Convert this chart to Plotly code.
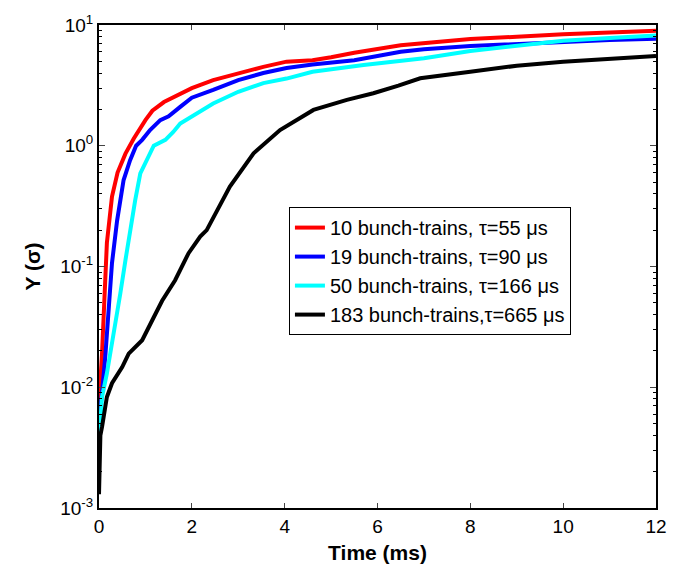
import plotly.graph_objects as go

# ---- data ----
t_red = [0.0, 0.01, 0.065, 0.12, 0.17, 0.28, 0.4, 0.57, 0.75, 1.0, 1.15, 1.4, 1.75, 2.0, 2.46, 3.0, 3.54, 4.04, 4.6, 5.0, 5.5, 6.5, 7.0, 8.0, 9.0, 10.0, 11.0, 12.0]
y_red = [0.006, 0.0083, 0.019, 0.056, 0.157, 0.38, 0.6, 0.86, 1.15, 1.63, 1.95, 2.3, 2.72, 3.0, 3.5, 4.0, 4.5, 4.97, 5.1, 5.4, 5.9, 6.8, 7.1, 7.65, 8.0, 8.4, 8.65, 8.95]

t_blue = [0.0, 0.065, 0.14, 0.21, 0.28, 0.39, 0.53, 0.67, 0.8, 0.93, 1.1, 1.32, 1.5, 1.75, 2.0, 2.46, 3.0, 3.54, 4.04, 4.6, 5.5, 6.5, 7.0, 8.0, 9.0, 10.0, 11.0, 12.0]
y_blue = [0.0054, 0.0089, 0.019, 0.047, 0.107, 0.24, 0.52, 0.76, 1.0, 1.12, 1.35, 1.63, 1.75, 2.1, 2.5, 2.9, 3.5, 4.0, 4.4, 4.7, 5.1, 6.0, 6.3, 6.7, 7.0, 7.3, 7.5, 7.7]

t_cyan = [0.0, 0.065, 0.17, 0.32, 0.46, 0.57, 0.67, 0.78, 0.89, 1.07, 1.18, 1.43, 1.6, 1.75, 2.0, 2.46, 3.0, 3.54, 4.04, 4.6, 5.7, 6.5, 7.0, 8.0, 9.0, 10.0, 11.0, 12.0]
y_cyan = [0.0035, 0.0083, 0.013, 0.028, 0.06, 0.113, 0.2, 0.355, 0.59, 0.81, 1.0, 1.12, 1.3, 1.53, 1.75, 2.24, 2.8, 3.3, 3.6, 4.1, 4.67, 5.1, 5.3, 6.1, 6.7, 7.4, 7.8, 8.2]

t_black = [0.0, 0.01, 0.03, 0.065, 0.17, 0.28, 0.5, 0.64, 0.93, 1.18, 1.36, 1.64, 1.93, 2.18, 2.32, 2.82, 3.33, 3.9, 4.62, 5.34, 5.91, 6.45, 6.92, 8.0, 9.0, 10.0, 11.0, 12.0]
y_black = [0.0013, 0.0025, 0.004, 0.0047, 0.0083, 0.0108, 0.0147, 0.019, 0.0245, 0.038, 0.052, 0.077, 0.129, 0.177, 0.2, 0.46, 0.865, 1.35, 1.98, 2.4, 2.72, 3.15, 3.62, 4.1, 4.6, 4.96, 5.25, 5.55]

names = ["10 bunch-trains, τ=55 μs", "19 bunch-trains, τ=90 μs",
         "50 bunch-trains, τ=166 μs", "183 bunch-trains,τ=665 μs"]
colors = ["#ff0000", "#0000ff", "#00ffff", "#000000"]
series = [(t_red, y_red), (t_blue, y_blue), (t_cyan, y_cyan), (t_black, y_black)]

y_tickvals = [0.001, 0.01, 0.1, 1, 10]
y_ticktext = ["10<sup>-3</sup>", "10<sup>-2</sup>", "10<sup>-1</sup>", "10<sup>0</sup>", "10<sup>1</sup>"]
y_minor = [m * d for d in [0.001, 0.01, 0.1, 1] for m in range(2, 10)]

FONT = "Arial, Liberation Sans, Helvetica, sans-serif"

fig = go.Figure()
for (tx, ty), nm, c in zip(series, names, colors):
    fig.add_trace(go.Scatter(x=tx, y=ty, mode="lines", name=nm,
                             line=dict(color=c, width=4)))

fig.update_layout(
    width=689, height=574,
    margin=dict(l=99, r=33, t=25, b=66),
    paper_bgcolor="white", plot_bgcolor="white",
    font=dict(family=FONT, color="black", size=19),
    showlegend=True,
    legend=dict(x=0.341, y=0.623, xanchor="left", yanchor="top",
                bordercolor="black", borderwidth=1, bgcolor="white",
                font=dict(size=20, family=FONT), tracegroupgap=0,
                itemwidth=30),
)
fig.update_xaxes(range=[0, 12], dtick=2, tick0=0, ticks="inside", ticklen=5,
                 showline=True, linecolor="black", linewidth=2, mirror="ticks",
                 showgrid=False, zeroline=False,
                 tickfont=dict(size=19),
                 title=dict(text="<b>Time (ms)</b>", font=dict(size=21), standoff=10))
fig.update_yaxes(type="log", range=[-3, 1], tickvals=y_tickvals, ticktext=y_ticktext,
                 ticks="inside", ticklen=6,
                 minor=dict(tickvals=y_minor, ticks="inside", ticklen=3,
                            tickcolor="black", showgrid=False),
                 showline=True, linecolor="black", linewidth=2, mirror="ticks",
                 showgrid=False, zeroline=False,
                 tickfont=dict(size=19),
                 title=dict(text="<b>Y (σ)</b>", font=dict(size=21), standoff=14))

fig.write_html("out.html")
